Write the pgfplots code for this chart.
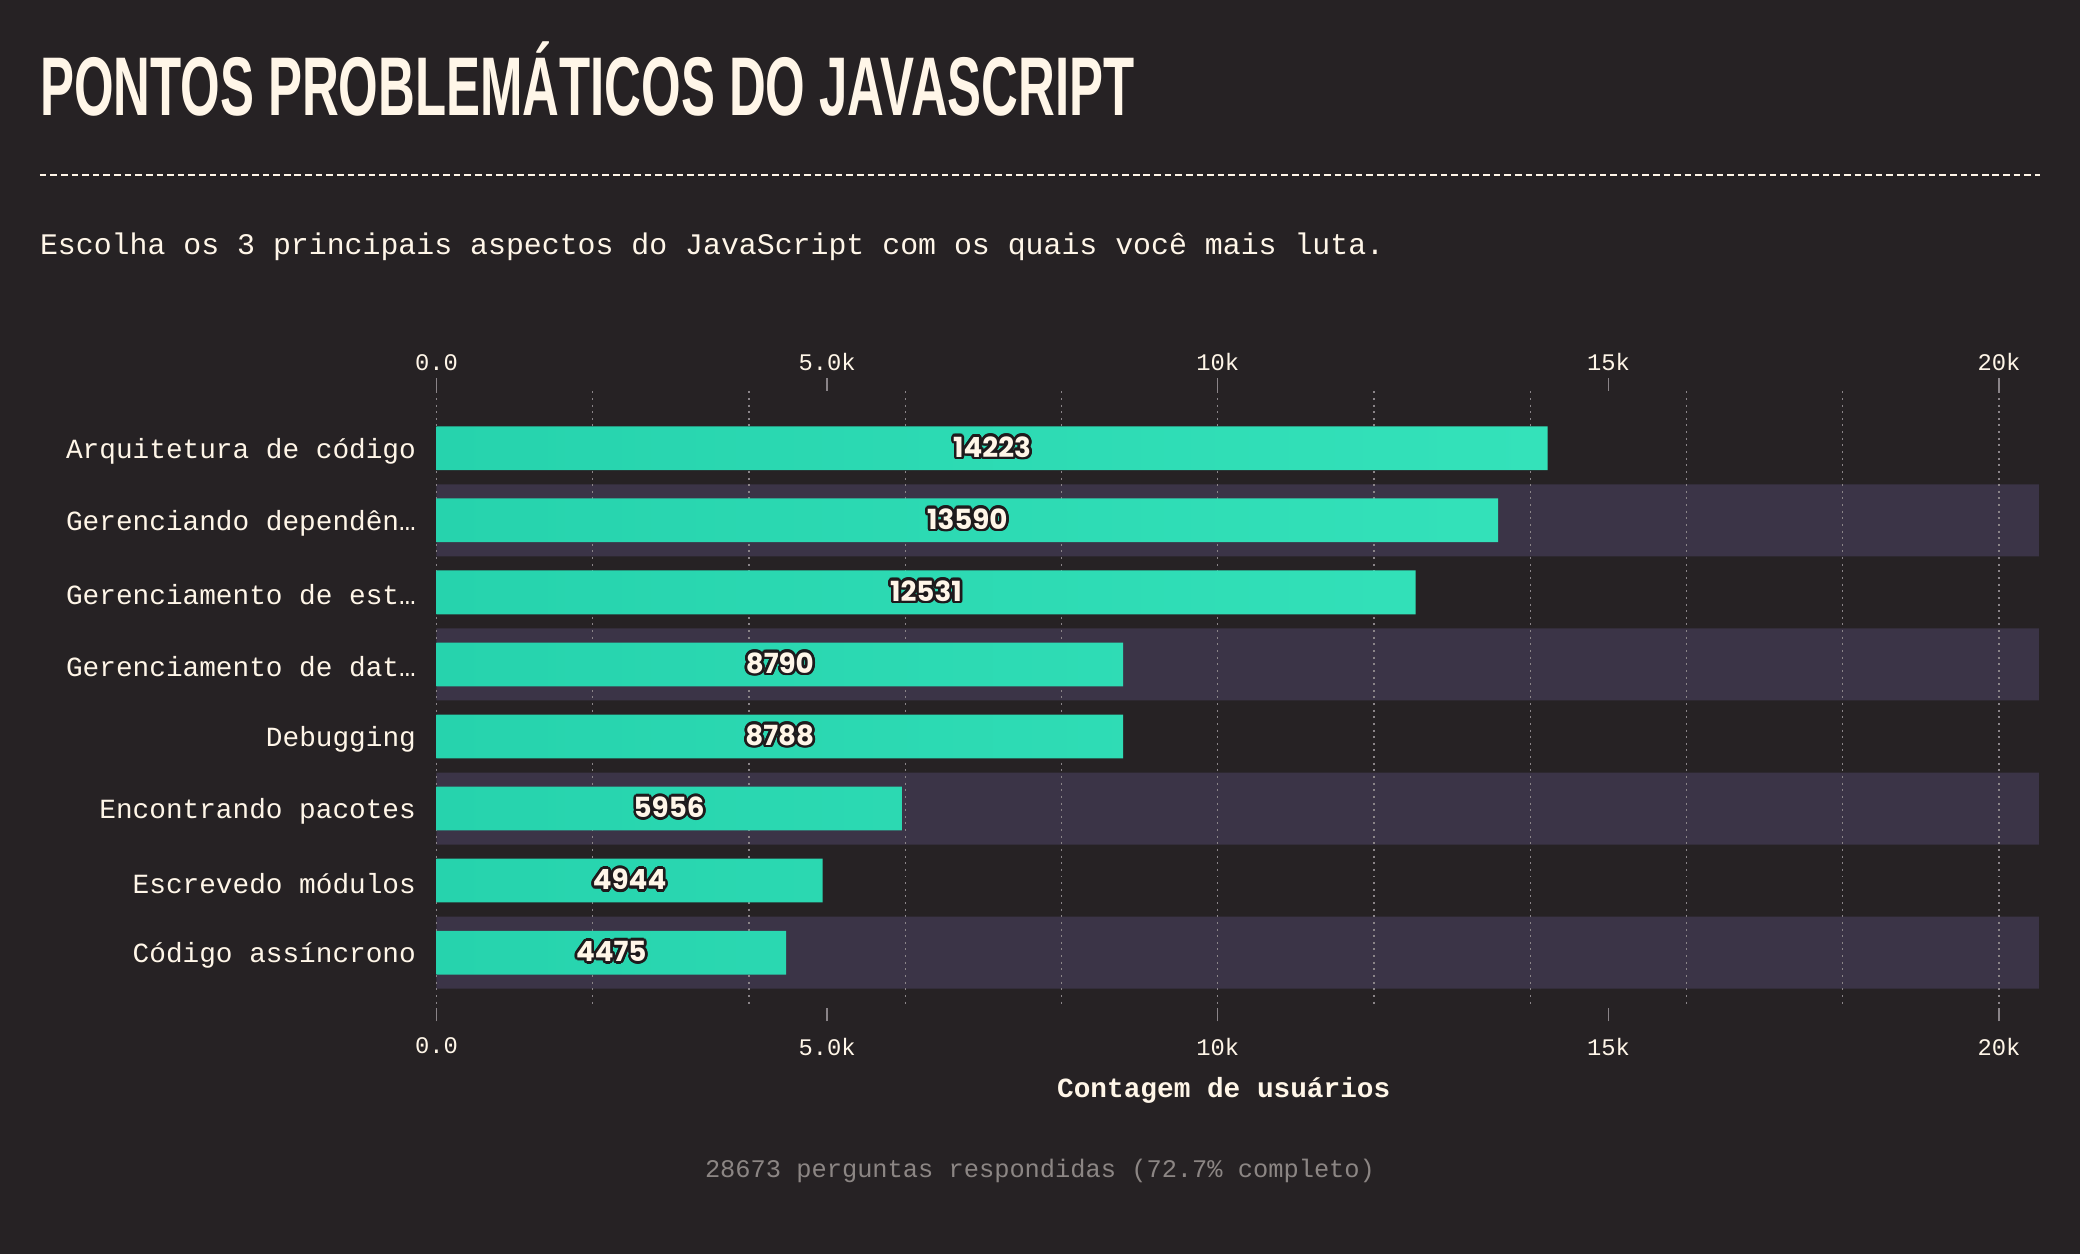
\documentclass[border=0pt]{standalone}
\usepackage{fontspec}
\usepackage{graphicx}
\usepackage{pgfplots}
\usepackage{pgfplotstable}
\usepackage{contour}
\pgfplotsset{compat=1.18}
\setmainfont{Liberation Mono}
\newfontfamily\titlefont{Liberation Sans}
\newfontfamily\valfont{Poppins}
\definecolor{bg}{HTML}{262224}
\definecolor{band}{HTML}{3B3447}
\definecolor{barA}{HTML}{26D3AD}
\definecolor{barB}{HTML}{34E2BA}
\definecolor{cream}{HTML}{FFF6E8}
\definecolor{tickgray}{HTML}{8A8488}
\definecolor{footgray}{HTML}{8C8684}
\definecolor{halo}{HTML}{1E1A1C}
\contourlength{2bp}
\pagecolor{bg}

\pgfplotstableread{
row v
0 14223
1 13590
2 12531
3 8790
4 8788
5 5956
6 4944
7 4475
}\pains

\begin{document}
\begin{tikzpicture}[x=1bp,y=1bp]
\path (0,0) rectangle (1568,945);

% title, rule, subtitle
\node[anchor=base west,inner sep=0,text=cream] at (30,858)
  {\resizebox{825bp}{\height}{\titlefont\bfseries\fontsize{63}{63}\selectfont PONTOS PROBLEMÁTICOS DO JAVASCRIPT}};
\draw[cream,line width=1.2bp,dash pattern=on 5bp off 3bp] (30,813) -- (1538,813);
\node[anchor=base west,inner sep=0,text=cream] at (30,753)
  {\fontsize{22.6}{26}\selectfont Escolha os 3 principais aspectos do JavaScript com os quais você mais luta.};

% top tick labels
\begin{axis}[
  at={(329bp,185bp)}, anchor=south west,
  scale only axis, width=1208bp, height=465bp,
  xmin=0, xmax=20510, ymin=-0.79, ymax=7.77, y dir=reverse,
  scaled x ticks=false,
  axis line style={draw=none},
  xtick={0,5000,10000,15000,20000},
  xticklabels={0.0,5.0k,10k,15k,20k},
  xtick pos=upper, xticklabel pos=upper,
  tick align=outside, major tick length=10bp,
  x tick style={tickgray,line width=1bp},
  ytick=\empty,
  xticklabel style={text=cream,font=\fontsize{18}{20}\selectfont,yshift=2bp},
]
\end{axis}

% main chart
\begin{axis}[
  at={(329bp,185bp)}, anchor=south west,
  scale only axis, width=1208bp, height=465bp,
  set layers,
  xmin=0, xmax=20510, ymin=-0.79, ymax=7.77, y dir=reverse,
  scaled x ticks=false,
  axis line style={draw=none},
  xtick={0,5000,10000,15000,20000},
  xticklabels={0.0,5.0k,10k,15k,20k},
  xtick pos=lower, xticklabel pos=lower,
  minor xtick={0,2000,...,20000},
  xminorgrids, minor tick length=0pt,
  minor grid style={tickgray,line width=1bp,dash pattern=on 1.5bp off 3.5bp},
  tick align=outside, major tick length=10bp,
  x tick style={tickgray,line width=1bp},
  xticklabel style={text=cream,font=\fontsize{18}{20}\selectfont,yshift=-9bp},
  ytick={0,...,7},
  yticklabels={Arquitetura de código,Gerenciando dependên…,Gerenciamento de est…,Gerenciamento de dat…,Debugging,Encontrando pacotes,Escrevedo módulos,Código assíncrono},
  y tick style={draw=none},
  yticklabel style={text=cream,font=\fontsize{21}{24}\selectfont,xshift=-2bp,yshift=-2bp},
  xlabel={\bfseries Contagem de usuários},
  xlabel style={text=cream,font=\fontsize{21}{24}\selectfont,at={(0.4913,0)},anchor=center,yshift=-62bp},
]
% alternating row bands
\addplot[xbar,bar shift=0pt,bar width=54.29bp,fill=band,draw=none,on layer=axis background]
  coordinates {(20510,1) (20510,3) (20510,5) (20510,7)};
% bars
\addplot[xbar,bar shift=0pt,bar width=33bp,left color=barA,right color=barB,draw=none]
  table[x=v,y=row] {\pains};
% value labels at mid-bar
\addplot[only marks,mark=none,
  point meta=explicit symbolic,
  nodes near coords={\contour{halo}{\textcolor{cream}{\valfont\bfseries\fontsize{21}{22}\selectfont\pgfplotspointmeta}}},
  nodes near coords align=center,
  every node near coord/.append style={anchor=center,inner sep=0}]
  table[x expr=\thisrow{v}/2,y=row,meta=v] {\pains};
\end{axis}

% footer
\node[anchor=center,text=footgray] at (784,62)
  {\fontsize{19.2}{22}\selectfont 28673 perguntas respondidas (72.7\% completo)};
\end{tikzpicture}
\end{document}
